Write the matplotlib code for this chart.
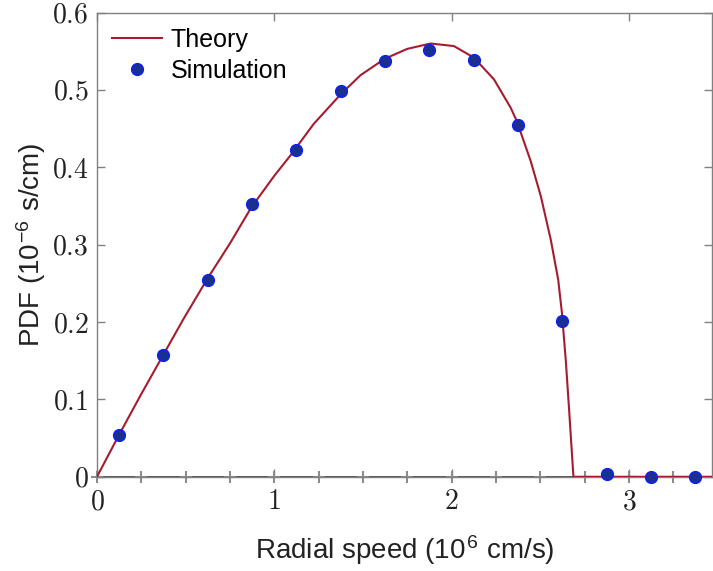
import matplotlib
matplotlib.use("Agg")
import matplotlib.pyplot as plt
from matplotlib.ticker import FuncFormatter

plt.rcParams['font.family'] = ['Liberation Sans', 'DejaVu Sans']
plt.rcParams['mathtext.fontset'] = 'cm'

# theory curve
theory_x = [0, 0.124, 0.25, 0.375, 0.488, 0.62, 0.751, 0.87, 1.0, 1.09,
            1.222, 1.373, 1.486, 1.621, 1.749, 1.881, 2.013, 2.126, 2.239,
            2.333, 2.367, 2.446, 2.503, 2.559, 2.601, 2.622, 2.644, 2.663,
            2.676, 2.687, 3.5]
theory_y = [0, 0.054, 0.107, 0.158, 0.204, 0.255, 0.302, 0.348, 0.389, 0.415,
            0.456, 0.494, 0.519, 0.540, 0.553, 0.560, 0.5567, 0.5417, 0.5136,
            0.477, 0.460, 0.408, 0.3627, 0.3066, 0.2548, 0.212, 0.150, 0.085,
            0.039, 0.0, 0.0]

# simulation histogram (bin centres)
sim_x = [0.125, 0.375, 0.625, 0.875, 1.125, 1.375, 1.625, 1.875, 2.125,
         2.375, 2.625, 2.875, 3.125, 3.375]
sim_y = [0.054, 0.158, 0.254, 0.353, 0.423, 0.498, 0.537, 0.552, 0.539,
         0.455, 0.201, 0.003, 0.0, 0.0]

# bin edges marked on the axis
edges = [0, 0.25, 0.5, 0.75, 1.0, 1.25, 1.5, 1.75, 2.0, 2.25, 2.5, 2.75,
         3.0, 3.25, 3.5]

fig = plt.figure(figsize=(7.13, 5.71), dpi=100)
ax = fig.add_axes([0.136, 0.165, 0.863, 0.813])

ax.axhline(0, color='#333333', lw=1.2, zorder=1)
ax.plot(edges, [0] * len(edges), '+', color='#8c8c8c', ms=9, mew=1.5,
        clip_on=False, zorder=2)
ax.plot(theory_x, theory_y, color='#A51C30', lw=1.5, label='Theory', zorder=3)
ax.plot(sim_x, sim_y, 'o', ms=8.5, mfc='#1B2F8F', mec='#0A1EFF', mew=1,
        label='Simulation', clip_on=False, zorder=4)

ax.set_xlim(0, 3.47)
ax.set_ylim(0, 0.6)
ax.set_xticks([0, 1, 2, 3])
ax.set_yticks([0, 0.1, 0.2, 0.3, 0.4, 0.5, 0.6])
fmt = FuncFormatter(lambda v, p: f'${v:g}$')
ax.xaxis.set_major_formatter(fmt)
ax.yaxis.set_major_formatter(fmt)
ax.tick_params(direction='in', length=6, width=1, color='#808080',
               labelsize=20, labelcolor='#222222', top=True, right=True)
ax.tick_params(axis='x', pad=9)
ax.tick_params(axis='y', pad=6)

for s in ax.spines.values():
    s.set_color('#808080')
    s.set_linewidth(1)

ax.set_xlabel(r'Radial speed (10$^{\mathregular{6}}$ cm/s)', fontsize=20,
              color='#222222', labelpad=13)
ax.set_ylabel(r'PDF (10$^{\mathregular{-6}}$ s/cm)', fontsize=20,
              color='#222222', labelpad=3)

ax.legend(loc='upper left', frameon=False, fontsize=18, handlelength=2.0,
          handletextpad=0.35, borderaxespad=0.2, labelspacing=0.3)

fig.savefig('out.png', dpi=100)
